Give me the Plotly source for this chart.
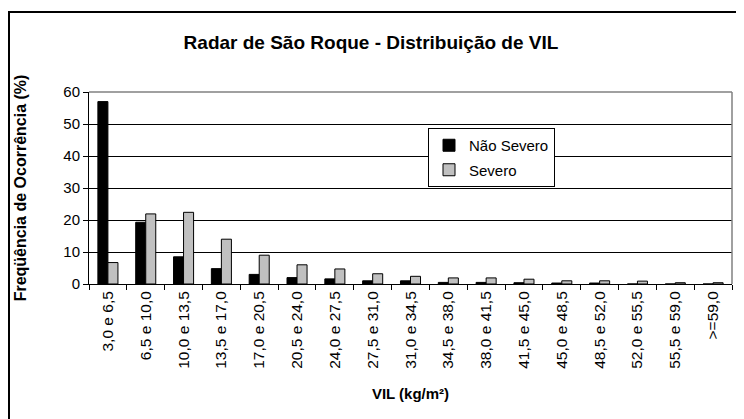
import plotly.graph_objects as go

categories = ["3,0 e 6,5", "6,5 e 10,0", "10,0 e 13,5", "13,5 e 17,0", "17,0 e 20,5",
              "20,5 e 24,0", "24,0 e 27,5", "27,5 e 31,0", "31,0 e 34,5", "34,5 e 38,0",
              "38,0 e 41,5", "41,5 e 45,0", "45,0 e 48,5", "48,5 e 52,0", "52,0 e 55,5",
              "55,5 e 59,0", ">=59,0"]
nao_severo = [57.0, 19.3, 8.5, 4.8, 3.0, 2.0, 1.6, 1.0, 1.0, 0.5, 0.5, 0.4, 0.3, 0.3, 0.0, 0.0, 0.0]
severo = [6.7, 21.9, 22.4, 14.0, 9.0, 6.0, 4.7, 3.2, 2.4, 1.9, 1.9, 1.5, 1.0, 1.0, 0.9, 0.4, 0.4]
y_ticks = [0, 10, 20, 30, 40, 50, 60]

FONT = "Liberation Sans, Arial, sans-serif"

fig = go.Figure()
fig.add_trace(go.Bar(x=categories, y=nao_severo, name="Não Severo", legendgroup="a",
                     marker=dict(color="black", line=dict(color="black", width=1))))
fig.add_trace(go.Bar(x=categories, y=severo, name="Severo", legendgroup="b",
                     marker=dict(color="#c0c0c0", line=dict(color="black", width=1))))

# the page body adds an 8px offset; figure coordinates = screen - 8
OFF = 8
W, H = 744, 419
L = 89 - OFF
T = 92 - OFF
R = W - (732 - OFF)
B = H - (284 - OFF)
pw = W - L - R
ph = H - T - B

def px_x(p):
    return (p - OFF - L) / pw

def px_y(p):
    return (H - B - (p - OFF)) / ph

fig.update_layout(
    width=W, height=H,
    margin=dict(l=L, r=R, t=T, b=B, autoexpand=False),
    paper_bgcolor="white", plot_bgcolor="white",
    font=dict(family=FONT, color="black", size=14),
    barmode="group", bargap=0.47, bargroupgap=0,
    title=dict(text="Radar de São Roque - Distribuição de VIL",
               x=(371 - OFF) / W, xanchor="center",
               y=1 - (42 - OFF) / H, yanchor="middle",
               font=dict(family=FONT, size=19, weight="bold", color="black")),
    showlegend=True,
    legend=dict(x=px_x(428), y=px_y(128), xanchor="left", yanchor="top",
                bgcolor="white", bordercolor="black", borderwidth=1,
                font=dict(family=FONT, size=15, color="black"),
                itemwidth=30,
                traceorder="grouped", tracegroupgap=2),
    xaxis=dict(type="category", tickangle=-90, showline=True, linecolor="black", linewidth=1,
               automargin=False,
               ticks="outside", tickson="boundaries", ticklen=5, tickcolor="black",
               tickfont=dict(family=FONT, size=15.5, color="black"),
               title=dict(text="VIL (kg/m²)", standoff=20,
                          font=dict(family=FONT, size=15, weight="bold", color="black")),
               showgrid=False),
    yaxis=dict(range=[0, 60], tickvals=y_ticks, showline=True, linecolor="black", linewidth=1,
               automargin=False,
               ticks="outside", ticklen=5, tickcolor="black",
               tickfont=dict(family=FONT, size=15, color="black"),
               showgrid=True, gridcolor="black", gridwidth=1, zeroline=False,
               title=dict(text="Freqüência de Ocorrência (%)", standoff=32,
                          font=dict(family=FONT, size=16, weight="bold", color="black"))),
    shapes=[
        dict(type="line", xref="paper", yref="paper", x0=0, x1=1, y0=1, y1=1,
             line=dict(color="#808080", width=1.5), layer="above"),
        dict(type="line", xref="paper", yref="paper", x0=1, x1=1, y0=0, y1=1,
             line=dict(color="#808080", width=1.5), layer="above"),
        dict(type="rect", xref="paper", yref="paper", x0=px_x(9), x1=px_x(780),
             y0=px_y(460), y1=px_y(12), line=dict(color="black", width=2), layer="above"),
    ],
)

fig.write_html("out.html")
